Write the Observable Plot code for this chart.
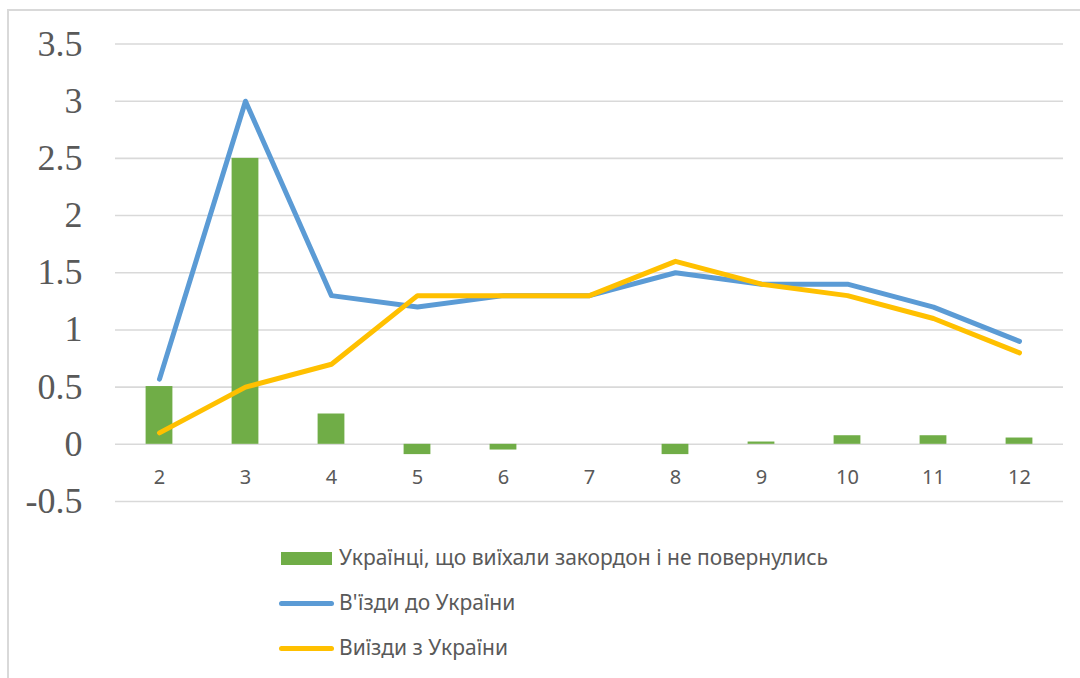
<!DOCTYPE html>
<html>
<head>
<meta charset="utf-8">
<script src="https://cdn.jsdelivr.net/npm/d3@7"></script>
<script src="https://cdn.jsdelivr.net/npm/@observablehq/plot@0.6"></script>
<style>
  html, body { margin: 0; padding: 0; background: #fff; }
  #wrap { position: relative; width: 1080px; height: 678px; overflow: hidden; }
  #frame { position: absolute; left: 7px; top: 9px; width: 1200px; height: 800px;
           border-left: 2px solid #d9d9d9; border-top: 2px solid #d9d9d9; box-sizing: border-box; }
  #chart { position: absolute; left: 0; top: 0; }
  #legend { position: absolute; left: 0; top: 0; width: 1080px; height: 678px;
            font-family: "Noto Sans", sans-serif; font-size: 21px; color: #595959; }
  .sw { position: absolute; }
  .txt { position: absolute; left: 339px; white-space: nowrap; line-height: 24px; height: 24px; }
</style>
</head>
<body>
<div id="wrap">
  <div id="chart"></div>
  <div id="frame"></div>
  <div id="legend"></div>
</div>
<script>
const months = ["2", "3", "4", "5", "6", "7", "8", "9", "10", "11", "12"];
const stayedAbroad = [0.505, 2.5, 0.265, -0.09, -0.05, 0, -0.09, 0.02, 0.075, 0.075, 0.055];
const entriesToUkraine = [0.57, 3.0, 1.3, 1.2, 1.3, 1.3, 1.5, 1.4, 1.4, 1.2, 0.9];
const exitsFromUkraine = [0.1, 0.5, 0.7, 1.3, 1.3, 1.3, 1.6, 1.4, 1.3, 1.1, 0.8];
const yTicks = [-0.5, 0, 0.5, 1, 1.5, 2, 2.5, 3, 3.5];
const seriesNames = ["Українці, що виїхали закордон і не повернулись", "В'їзди до України", "Виїзди з України"];
const seriesColors = ["#70ad47", "#5b9bd5", "#ffc000"];

const data = months.map((m, i) => ({
  m, stayed: stayedAbroad[i], entries: entriesToUkraine[i], exits: exitsFromUkraine[i]
}));

const chart = Plot.plot({
  width: 1080,
  height: 530,
  marginLeft: 115,
  marginRight: 17,
  marginTop: 43.5,
  marginBottom: 29,
  style: { background: "none", overflow: "visible" },
  x: { type: "band", domain: months, paddingInner: 0, paddingOuter: 0, axis: null },
  y: { domain: [-0.5, 3.5], axis: null },
  marks: [
    Plot.ruleY(yTicks, { stroke: "#d9d9d9", strokeWidth: 1.6 }),
    Plot.text(yTicks, { y: d => d, text: d => String(d), frameAnchor: "left", textAnchor: "end", dx: -33,
      fontSize: 36, fontFamily: "Liberation Serif, serif", fill: "#595959" }),
    Plot.barY(data, { x: "m", y: "stayed", fill: seriesColors[0], insetLeft: 29.6, insetRight: 29.6 }),
    Plot.line(data, { x: "m", y: "entries", stroke: seriesColors[1], strokeWidth: 5, strokeLinecap: "round", strokeLinejoin: "round" }),
    Plot.line(data, { x: "m", y: "exits", stroke: seriesColors[2], strokeWidth: 5, strokeLinecap: "round", strokeLinejoin: "round" }),
    Plot.text(data, { x: "m", y: () => 0, text: "m", dy: 33, fontSize: 20, fontFamily: "Noto Sans, sans-serif", fill: "#595959" })
  ]
});
document.getElementById("chart").appendChild(chart);

const legend = document.getElementById("legend");
const centers = [558, 603, 648];
seriesNames.forEach((name, i) => {
  const sw = document.createElement("div");
  sw.className = "sw";
  sw.style.background = seriesColors[i];
  if (i === 0) {
    sw.style.left = "281px"; sw.style.width = "51px";
    sw.style.top = (centers[i] - 6.5) + "px"; sw.style.height = "13px";
  } else {
    sw.style.left = "279px"; sw.style.width = "55px";
    sw.style.top = (centers[i] - 2.5) + "px"; sw.style.height = "5px"; sw.style.borderRadius = "3px";
  }
  const t = document.createElement("div");
  t.className = "txt";
  t.style.top = (centers[i] - 13) + "px";
  t.textContent = name;
  legend.appendChild(sw);
  legend.appendChild(t);
});
</script>
</body>
</html>
